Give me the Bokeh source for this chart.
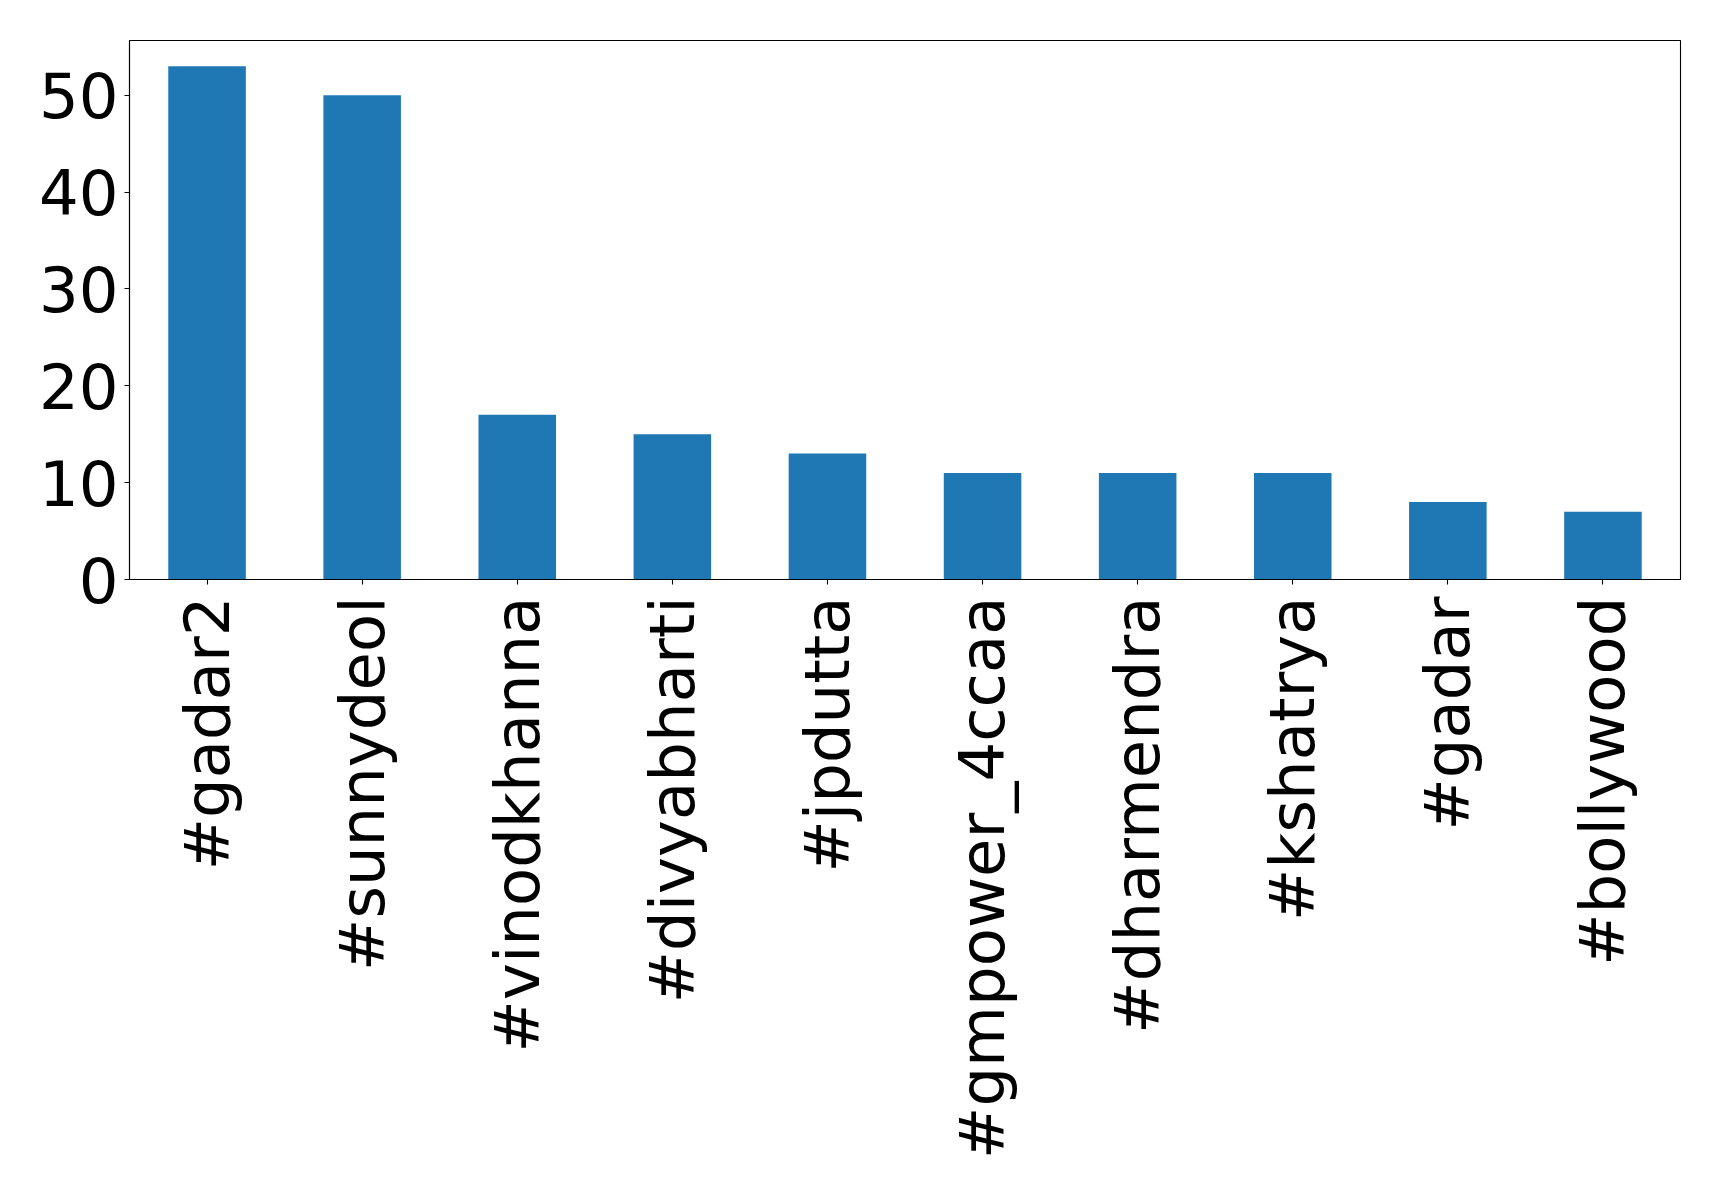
import math
from bokeh.plotting import figure
from bokeh.models import FactorRange, Range1d, FixedTicker, ColumnDataSource
from bokeh.embed import file_html
from bokeh.resources import INLINE

tags = ["#gadar2", "#sunnydeol", "#vinodkhanna", "#divyabharti", "#jpdutta",
        "#gmpower_4ccaa", "#dharmendra", "#kshatrya", "#gadar", "#bollywood"]
counts = [53, 50, 17, 15, 13, 11, 11, 11, 8, 7]
y_ticks = [0, 10, 20, 30, 40, 50]

src = ColumnDataSource(dict(tag=tags, count=counts))

p = figure(width=1711, height=1183, output_backend="svg", toolbar_location=None,
           x_range=FactorRange(factors=tags, range_padding=0),
           y_range=Range1d(0, max(counts) * 1.05),
           min_border_left=129, min_border_right=31, min_border_top=40, min_border_bottom=604)
p.vbar(x="tag", top="count", width=0.5, source=src, color="#1f77b4", line_color=None)

p.xgrid.visible = False
p.ygrid.visible = False
p.outline_line_color = "black"
p.outline_line_width = 1.1
p.outline_line_alpha = 1

for ax in (p.xaxis[0], p.yaxis[0]):
    ax.axis_line_color = "black"
    ax.axis_line_width = 1.1
    ax.major_tick_out = 5
    ax.major_tick_in = 0
    ax.minor_tick_line_color = None
    ax.major_tick_line_width = 1.1
    ax.major_label_text_font = "DejaVu Sans"
    ax.major_label_text_font_size = "62.5px"
    ax.major_label_text_color = "black"

p.yaxis.ticker = FixedTicker(ticks=y_ticks)
p.yaxis.major_label_standoff = 6
p.xaxis.major_label_orientation = math.pi / 2
p.xaxis.major_label_standoff = 12

open("out.html", "w").write(file_html(p, INLINE))
